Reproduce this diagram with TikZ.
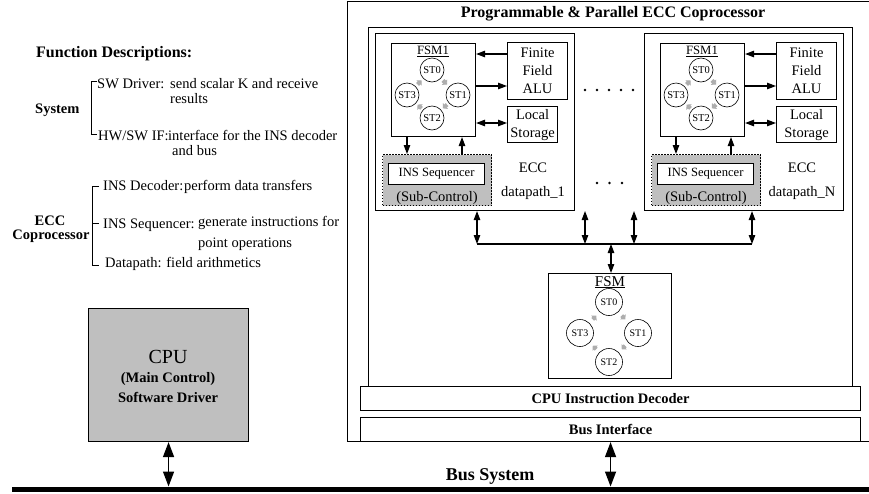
\documentclass[tikz,border=0pt]{standalone}
\usepackage{fontspec}
\setmainfont{Liberation Serif}
\usetikzlibrary{arrows.meta,calc}

\tikzset{
  blk/.style={draw, line width=1.1pt, fill=white, inner sep=0pt, align=center, anchor=north west},
  st/.style={circle, draw, line width=0.6pt, inner sep=0pt, minimum size=24pt, font=\fontsize{10.5}{12}\selectfont},
  bigst/.style={st, minimum size=27pt, font=\fontsize{10}{12}\selectfont},
  arr/.style={line width=1.1pt, -{Triangle[length=9pt,width=6.5pt]}},
  darr/.style={line width=1.1pt, {Triangle[length=9pt,width=6.5pt]}-{Triangle[length=9pt,width=6.5pt]}},
  bigarr/.style={line width=1.4pt, {Triangle[length=15pt,width=11pt]}-{Triangle[length=15pt,width=11pt]}},
  grayhead/.style={draw=black!32, line width=4pt, -{Triangle[length=3.5pt,width=7.5pt]}},
  txt/.style={inner sep=0pt, font=\fontsize{14.5}{18}\selectfont},
  btxt/.style={inner sep=0pt, font=\fontsize{14.5}{18}\selectfont\bfseries},
  lbl/.style={txt, anchor=base west},
  blbl/.style={btxt, anchor=base west},
  brk/.style={line width=0.9pt},
}

\begin{document}
\begin{tikzpicture}[x=1pt, y=-1pt]
\useasboundingbox (0,0) rectangle (869,493);

% ---------- function descriptions ----------
\node[blbl, font=\fontsize{16}{18}\selectfont\bfseries] (fdesc) at (36,57) {Function Descriptions:};
\node[blbl] (sys) at (35,113) {System};
\draw[brk] (97,81) -- (91,81) -- (91,134) -- (97,134);
\node[lbl] (swd) at (97,88) {SW Driver:};
\node[lbl] (swdt) at (170,88) {send scalar K and receive};
\node[lbl] (swdt2) at (170,103) {results};
\node[lbl] (hwsw) at (98,140) {HW/SW IF:};
\node[lbl] (hwswt) at (168,140) {interface for the INS decoder};
\node[lbl] (hwswt2) at (172,155) {and bus};

\node[btxt, anchor=base] (eccl) at (50,225) {ECC};
\node[btxt, anchor=base] (copl) at (51,239.5) {Coprocessor};
\draw[brk] (99,186) -- (92,186) -- (92,265) -- (99,265);
\draw[brk] (92,223) -- (99,223);
\node[lbl] (insd) at (103,190.5) {INS Decoder:};
\node[lbl] (insdt) at (184,190.5) {perform data transfers};
\node[lbl] (inss) at (103,228) {INS Sequencer:};
\node[lbl] (insst) at (198,226) {generate instructions for};
\node[lbl] (insst2) at (198,247) {point operations};
\node[lbl] (dpt) at (105,267) {Datapath: field arithmetics};

% ---------- CPU ----------
\node[blk, fill=black!25, minimum width=160pt, minimum height=133pt] (cpu) at (88,308) {};
\node[inner sep=0pt, font=\fontsize{20}{22}\selectfont] (cpul) at (168,357) {CPU};
\node[btxt] (cpum) at (168,379) {(Main Control)};
\node[btxt] (cpus) at (168,397) {Software Driver};

% ---------- coprocessor frame ----------
\node[draw, line width=1pt, fill=white, anchor=north west, minimum width=533pt, minimum height=440pt] (cop) at (347,1) {};
\node[btxt, font=\fontsize{16}{18}\selectfont\bfseries] (title) at (613,14) {Programmable \& Parallel ECC Coprocessor};
\node[blk, line width=1pt, minimum width=484pt, minimum height=359pt] (inner) at (368,27) {};

% ---------- datapaths ----------
\foreach \dx/\k/\lb/\lsw in {0/a/1/50, 269/b/N/60} {
\begin{scope}[xshift=\dx]
  \node[blk, minimum width=199pt, minimum height=177pt] (dp\k) at (375,33) {};
  \node[blk, minimum width=84pt, minimum height=93pt] (fsm\k) at (391,43) {};
  \node[inner sep=0pt, anchor=base, font=\fontsize{12.7}{14}\selectfont] (fsml\k) at (433,54.5) {\underline{FSM1}};
  \node[st] (s0\k) at (432,70) {ST0};
  \node[st] (s1\k) at (458,95) {ST1};
  \node[st] (s2\k) at (432,118) {ST2};
  \node[st] (s3\k) at (407,95) {ST3};
  \draw[grayhead] ($(s0\k)!0.42!(s1\k)$) -- ($(s0\k)!0.58!(s1\k)$);
  \draw[grayhead] ($(s1\k)!0.42!(s2\k)$) -- ($(s1\k)!0.58!(s2\k)$);
  \draw[grayhead] ($(s2\k)!0.42!(s3\k)$) -- ($(s2\k)!0.58!(s3\k)$);
  \draw[grayhead] ($(s3\k)!0.42!(s0\k)$) -- ($(s3\k)!0.58!(s0\k)$);
  \node[blk, txt, minimum width=60pt, minimum height=57pt] (alu\k) at (507,42) {Finite\\Field\\ALU};
  \node[blk, txt, minimum width=\lsw pt, minimum height=36pt] (ls\k) at (507,106) {Local\\Storage};
  \node[blk, fill=black!25, dash pattern=on 1.5pt off 1.5pt, minimum width=109pt, minimum height=51pt] (sub\k) at (382,154) {};
  \node[blk, font=\fontsize{12.6}{14}\selectfont, minimum width=96pt, minimum height=21pt] (seq\k) at (388,163) {INS Sequencer};
  \node[txt] (subl\k) at (437,198) {(Sub-Control)};
  \node[txt] (ecc\k) at (533,168) {ECC};
  \node[txt] (dpl\k) at (533,193) {datapath\_\lb};
  \draw[arr] (alu\k.west |- 0,54) -- (fsm\k.east |- 0,54);
  \draw[arr] (fsm\k.east |- 0,86) -- (alu\k.west |- 0,86);
  \draw[darr] (fsm\k.east |- 0,123) -- (ls\k.west |- 0,123);
  \draw[arr] (fsm\k.south -| 407,0) -- (sub\k.north -| 407,0);
  \draw[arr] (sub\k.north -| 462,0) -- (fsm\k.south -| 462,0);
\end{scope}
}

% dots between the datapaths
\foreach \i in {0,...,4} { \fill (585+12*\i,90) circle (1.4); }
\foreach \i in {0,...,2} { \fill (597+12.5*\i,183) circle (1.4); }

% ---------- internal bus ----------
\coordinate (ibl) at (477,244);
\coordinate (ibr) at (752,244);
\coordinate (ib1) at (585,244);
\coordinate (ib2) at (634,244);
\coordinate (ibm) at (611,244);
\coordinate (ib1t) at (585,211);
\coordinate (ib2t) at (634,211);
\draw[line width=1.1pt] (ibl) -- (ibr);
\draw[darr] (dpa.south -| ibl) -- (ibl);
\draw[darr] (dpb.south -| ibr) -- (ibr);
\draw[darr] (ib1t) -- (ib1);
\draw[darr] (ib2t) -- (ib2);

% ---------- central FSM ----------
\node[blk, minimum width=123pt, minimum height=105pt] (cfsm) at (548,273) {};
\draw[darr] (ibm) -- (cfsm.north -| ibm);
\node[inner sep=0pt, anchor=base, font=\fontsize{15}{17}\selectfont] (cfsml) at (610,286) {\underline{FSM}};
\node[bigst] (c0) at (609,302) {ST0};
\node[bigst] (c1) at (638,333) {ST1};
\node[bigst] (c2) at (609,362) {ST2};
\node[bigst] (c3) at (580,333) {ST3};
\draw[grayhead] ($(c0)!0.44!(c1)$) -- ($(c0)!0.56!(c1)$);
\draw[grayhead] ($(c1)!0.44!(c2)$) -- ($(c1)!0.56!(c2)$);
\draw[grayhead] ($(c2)!0.44!(c3)$) -- ($(c2)!0.56!(c3)$);
\draw[grayhead] ($(c3)!0.44!(c0)$) -- ($(c3)!0.56!(c0)$);

% ---------- decoder and bus interface ----------
\node[blk, btxt, minimum width=500pt, minimum height=24pt] (dec) at (360,386) {CPU Instruction Decoder};
\node[blk, btxt, minimum width=500pt, minimum height=24pt] (bif) at (360,417) {Bus Interface};

% ---------- system bus ----------
\coordinate (busa) at (12,489);
\coordinate (busb) at (869,489);
\draw[line width=5pt] (busa) -- (busb);
\node[btxt, anchor=base, font=\fontsize{18}{20}\selectfont\bfseries] (busl) at (490,480.5) {Bus System};
\draw[bigarr, shorten >=2.5pt] (cpu.south) -- (cpu.south |- busa);
\draw[bigarr, shorten >=2.5pt] (bif.south) -- (bif.south |- busa);
\end{tikzpicture}
\end{document}
